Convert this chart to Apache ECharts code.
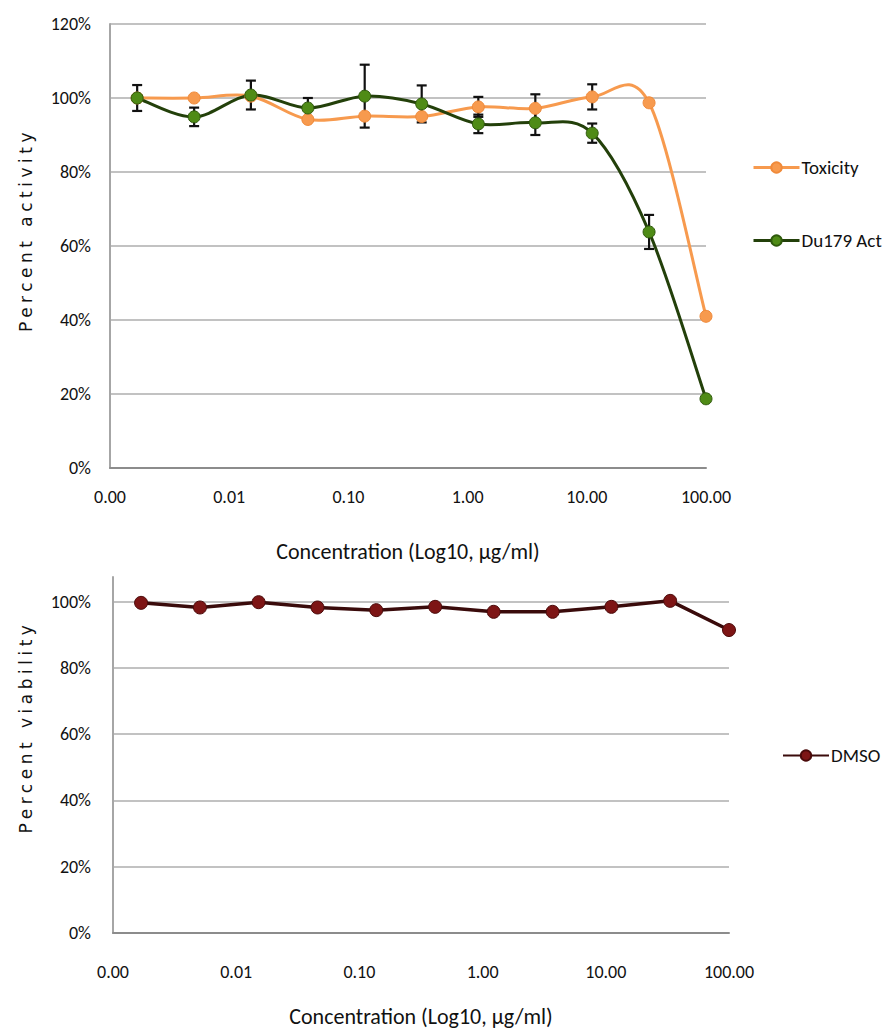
<!DOCTYPE html>
<html>
<head>
<meta charset="utf-8">
<script src="https://cdn.jsdelivr.net/npm/echarts@6/dist/echarts.min.js"></script>
<style>
  html, body { margin: 0; padding: 0; background: #fff; }
  #chart { width: 890px; height: 1032px; }
  /* wide tracking for the rotated y-axis titles */
  #chart text[style*="DejaVu"] { letter-spacing: 4.5px; }
</style>
</head>
<body>
<div id="chart"></div>
<script>
// Three-fold serial dilutions, µg/ml
const concentrations = [0.00169, 0.00508, 0.0152, 0.0457, 0.137, 0.412, 1.23, 3.70, 11.1, 33.3, 100];

// Upper panel: percent activity
const toxicity     = [100, 100, 100.5, 94.2, 95.1, 95.0, 97.6, 97.2, 100.3, 98.7, 41.0];
const toxicityErr  = [0, 0, 0, 0, 0, 0, 2.7, 3.8, 3.4, 0, 0];
const du179Act     = [100, 94.9, 100.8, 97.3, 100.5, 98.4, 93.0, 93.3, 90.5, 63.8, 18.7];
const du179ActErr  = [3.5, 2.5, 3.9, 2.7, 8.5, 5.0, 2.5, 3.3, 2.6, 4.6, 0];

// Lower panel: percent viability
const dmso = [99.6, 98.2, 99.8, 98.2, 97.4, 98.4, 96.9, 96.9, 98.4, 100.2, 91.4];

// Axis tick labels
const xTicks = [0.001, 0.01, 0.1, 1, 10, 100];
const yTicks = [0, 20, 40, 60, 80, 100, 120];

const xTitle = 'Concentration (Log10, µg/ml)';

const TOX_COLOR = '#f79a4e';
const ACT_LINE = '#23400a';
const ACT_DOT = '#4f8b16';

const labelFont = 'Carlito, Lato, sans-serif';
const textColor = '#111';
const n = concentrations.length;
const pairs = ys => concentrations.map((c, i) => [c, ys[i]]);
const errData = (ys, es) => concentrations
  .map((c, i) => [c, ys[i] - es[i], ys[i] + es[i], es[i]])
  .filter(d => d[3] > 0);

function errorBars(params, api) {
  const x = api.value(0);
  const top = api.coord([x, api.value(2)]);
  const bot = api.coord([x, api.value(1)]);
  const w = 5;
  const style = { stroke: '#111', lineWidth: 2.2 };
  return {
    type: 'group',
    children: [
      { type: 'line', shape: { x1: top[0], y1: top[1], x2: bot[0], y2: bot[1] }, style },
      { type: 'line', shape: { x1: top[0] - w, y1: top[1], x2: top[0] + w, y2: top[1] }, style },
      { type: 'line', shape: { x1: bot[0] - w, y1: bot[1], x2: bot[0] + w, y2: bot[1] }, style }
    ]
  };
}

// Spreadsheet-style smoothed connector: one cubic Bezier per segment,
// control points taken from the neighbouring points (tension 1/6).
function smoothSegment(ys, color) {
  return (params, api) => {
    const i = params.dataIndex;
    const P = j => {
      const k = Math.max(0, Math.min(n - 1, j));
      return api.coord([concentrations[k], ys[k]]);
    };
    const p0 = P(i - 1), p1 = P(i), p2 = P(i + 1), p3 = P(i + 2);
    return {
      type: 'bezierCurve',
      shape: {
        x1: p1[0], y1: p1[1], x2: p2[0], y2: p2[1],
        cpx1: p1[0] + (p2[0] - p0[0]) / 6, cpy1: p1[1] + (p2[1] - p0[1]) / 6,
        cpx2: p2[0] - (p3[0] - p1[0]) / 6, cpy2: p2[1] - (p3[1] - p1[1]) / 6
      },
      style: { stroke: color, lineWidth: 3, fill: null, lineCap: 'round' }
    };
  };
}
const segData = ys => concentrations.slice(0, -1).map((c, i) => [c, ys[i]]);

const xAxisBase = (gridIndex, margin) => ({
  type: 'log',
  gridIndex,
  min: xTicks[0],
  max: xTicks[xTicks.length - 1],
  logBase: 10,
  name: xTitle,
  nameLocation: 'middle',
  nameGap: 72,
  nameTextStyle: { fontFamily: labelFont, fontSize: 22, color: textColor },
  axisLine: { show: true, lineStyle: { color: '#8c8c8c', width: 2 } },
  axisTick: { show: false },
  splitLine: { show: false },
  axisLabel: {
    margin,
    fontFamily: labelFont, fontSize: 18, color: textColor,
    formatter: v => Number(v).toFixed(2)
  }
});

const yAxisBase = (gridIndex, max, name, shift, gap) => ({
  type: 'value',
  gridIndex,
  min: yTicks[0],
  max,
  interval: 20,
  name,
  nameLocation: 'middle',
  nameGap: gap,
  nameRotate: 90,
  nameTextStyle: {
    fontFamily: 'DejaVu Sans', fontSize: 17, color: textColor,
    padding: [0, 0, 0, shift]
  },
  axisLine: { show: true, lineStyle: { color: '#a6a6a6', width: 2 } },
  axisTick: { show: false },
  splitLine: { show: true, showMaxLine: max === 120, lineStyle: { color: '#c2c2c2', width: 2 } },
  axisLabel: {
    margin: gridIndex === 0 ? 19 : 22,
    showMaxLabel: max === 120,
    fontFamily: labelFont, fontSize: 18, color: textColor,
    formatter: v => (v % 20 === 0 ? v + '%' : '')
  }
});

const legendText = { fontFamily: labelFont, fontSize: 19, color: textColor, padding: [0, 0, 0, -3] };

const chart = echarts.init(document.getElementById('chart'), null, { renderer: 'svg' });

chart.setOption({
  backgroundColor: '#ffffff',
  animation: false,
  grid: [
    { left: 110, top: 24, width: 596, height: 444 },
    { left: 113, top: 577, width: 616, height: 356 }
  ],
  xAxis: [xAxisBase(0, 20), xAxisBase(1, 30)],
  yAxis: [
    yAxisBase(0, yTicks[yTicks.length - 1], 'Percent activity', 32, 76),
    yAxisBase(1, 107.4, 'Percent viability', 56, 79)
  ],
  legend: [
    {
      orient: 'vertical', left: 747, top: 153, itemGap: 54,
      itemWidth: 46, itemHeight: 13,
      textStyle: legendText,
      data: [
        { name: 'Toxicity', lineStyle: { color: TOX_COLOR, width: 3, opacity: 1 } },
        { name: 'Du179 Act', lineStyle: { color: ACT_LINE, width: 3, opacity: 1 } }
      ]
    },
    {
      orient: 'vertical', left: 777, top: 741,
      itemWidth: 46, itemHeight: 13,
      textStyle: legendText,
      data: ['DMSO']
    }
  ],
  series: [
    {
      type: 'custom', xAxisIndex: 0, yAxisIndex: 0, z: 1,
      renderItem: errorBars, data: errData(du179Act, du179ActErr), silent: true
    },
    {
      type: 'custom', xAxisIndex: 0, yAxisIndex: 0, z: 1,
      renderItem: errorBars, data: errData(toxicity, toxicityErr), silent: true
    },
    {
      type: 'custom', xAxisIndex: 0, yAxisIndex: 0, z: 2, clip: false, silent: true,
      renderItem: smoothSegment(toxicity, TOX_COLOR), data: segData(toxicity)
    },
    {
      type: 'custom', xAxisIndex: 0, yAxisIndex: 0, z: 2, clip: false, silent: true,
      renderItem: smoothSegment(du179Act, ACT_LINE), data: segData(du179Act)
    },
    {
      name: 'Toxicity', type: 'line', xAxisIndex: 0, yAxisIndex: 0, z: 3,
      data: pairs(toxicity),
      symbol: 'circle', symbolSize: 12,
      lineStyle: { color: TOX_COLOR, width: 3, opacity: 0 },
      itemStyle: { color: TOX_COLOR, borderColor: '#f08a3a', borderWidth: 1 }
    },
    {
      name: 'Du179 Act', type: 'line', xAxisIndex: 0, yAxisIndex: 0, z: 4,
      data: pairs(du179Act),
      symbol: 'circle', symbolSize: 12,
      lineStyle: { color: ACT_LINE, width: 3, opacity: 0 },
      itemStyle: { color: ACT_DOT, borderColor: '#2f5a0c', borderWidth: 1 }
    },
    {
      name: 'DMSO', type: 'line', xAxisIndex: 1, yAxisIndex: 1, z: 3,
      data: pairs(dmso),
      symbol: 'circle', symbolSize: 13,
      lineStyle: { color: '#3a0b0b', width: 3.5 },
      itemStyle: { color: '#7d1515', borderColor: '#4a0a0a', borderWidth: 1 }
    }
  ]
});
</script>
</body>
</html>
